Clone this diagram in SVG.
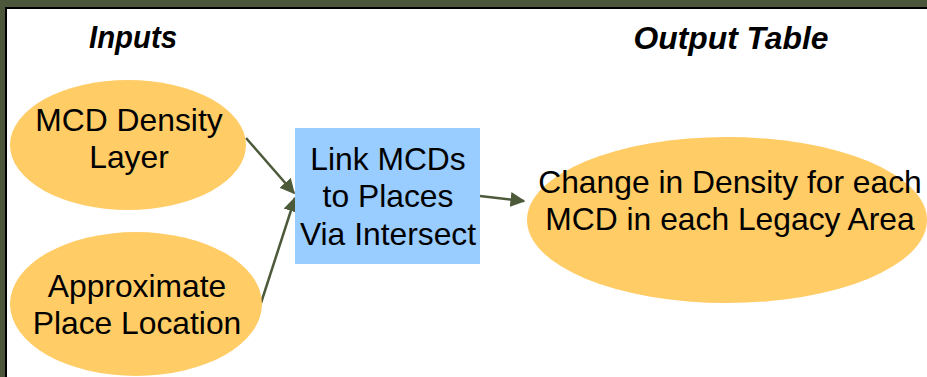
<svg xmlns="http://www.w3.org/2000/svg" width="927" height="377" viewBox="0 0 927 377">
<defs>
<style>
.node{fill:#FFCC66;}
.box{fill:#99CCFF;}
.t{font-family:"Liberation Sans",Arial,sans-serif;font-size:31.8px;fill:#000;text-anchor:middle;}
.h{font-family:"Liberation Sans",Arial,sans-serif;font-size:31px;font-weight:bold;font-style:italic;fill:#000;text-anchor:middle;}
.c{stroke:#4D5A3A;stroke-width:2.5;fill:none;marker-end:url(#ah);}
</style>
<marker id="ah" viewBox="0 0 10 10" refX="9" refY="5" markerWidth="6" markerHeight="6" markerUnits="strokeWidth" orient="auto">
<path d="M0,0 L10,5 L0,10 z" fill="#4D5A3A"/>
</marker>
</defs>
<rect x="0" y="0" width="927" height="377" fill="#4B563A"/>
<rect x="5" y="7" width="922" height="370" fill="#000"/>
<rect x="7" y="9" width="920" height="368" fill="#FFFFFF"/>
<text class="h" x="133" y="48" textLength="88" lengthAdjust="spacingAndGlyphs">Inputs</text>
<text class="h" x="731" y="49" textLength="195" lengthAdjust="spacingAndGlyphs">Output Table</text>
<g id="connectors">
<line class="c" x1="246" y1="138" x2="294" y2="193"/>
<line class="c" x1="261" y1="303" x2="295" y2="198"/>
<line class="c" x1="480" y1="196" x2="524" y2="201"/>
</g>
<g id="mcd-density">
<ellipse class="node" cx="128" cy="145" rx="118" ry="65"/>
<text class="t" x="129" y="131">MCD Density</text>
<text class="t" x="129" y="168">Layer</text>
</g>
<g id="approx-place">
<ellipse class="node" cx="136" cy="304" rx="126" ry="72"/>
<text class="t" x="137" y="297">Approximate</text>
<text class="t" x="137" y="334">Place Location</text>
</g>
<g id="link">
<rect class="box" x="295" y="128" width="185" height="136"/>
<text class="t" x="388" y="170">Link MCDs</text>
<text class="t" x="388" y="207">to Places</text>
<text class="t" x="388" y="245">Via Intersect</text>
</g>
<g id="output">
<ellipse class="node" cx="727" cy="220" rx="200" ry="83"/>
<text class="t" x="730" y="193">Change in Density for each</text>
<text class="t" x="730" y="230">MCD in each Legacy Area</text>
</g>
</svg>
